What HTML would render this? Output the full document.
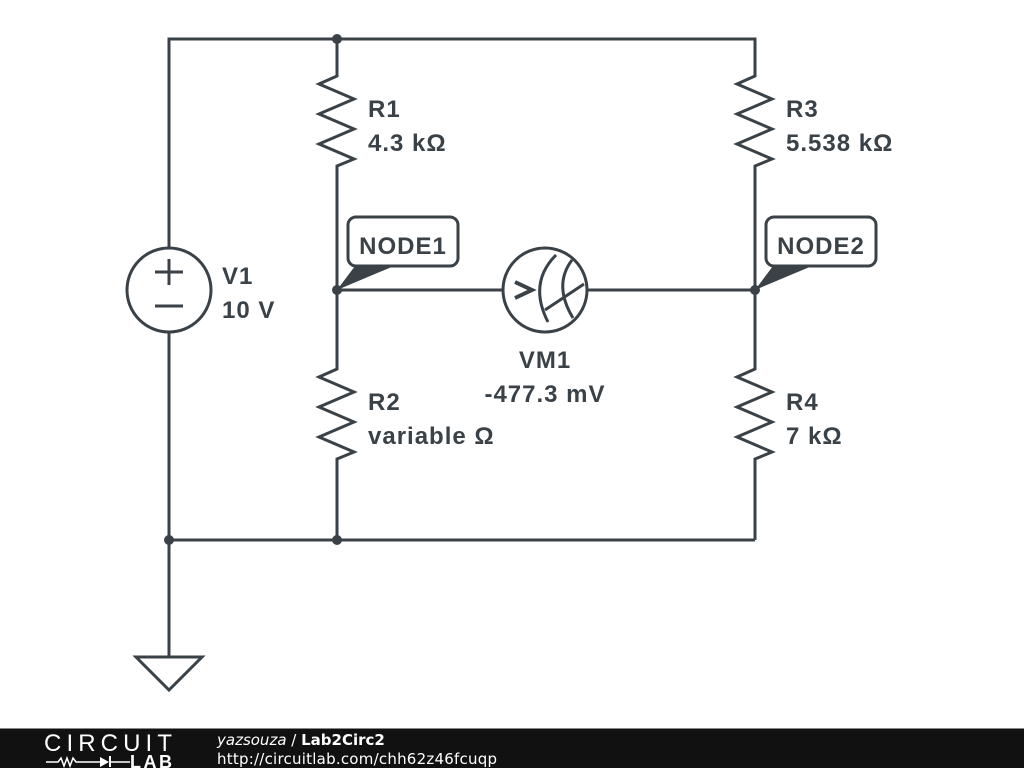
<!DOCTYPE html>
<html><head><style>
body{margin:0;width:1024px;height:768px;overflow:hidden;background:#fff}
text{font-family:"Liberation Sans",sans-serif;font-weight:bold;fill:#3a4248}
</style></head><body>
<svg width="1024" height="768" xmlns="http://www.w3.org/2000/svg">
<defs>
<g id="res"><polyline points="0,-50 0,-44 -18,-36 17,-21 -18,-6 17,9 -18,24 17,39 0,46 0,50" fill="none" stroke="#3a4248" stroke-width="3" stroke-linejoin="miter"/></g>
</defs>
<g fill="none" stroke="#3a4248" stroke-width="3">
<polyline points="169,248 169,39 755,39 755,70"/>
<line x1="337" y1="39" x2="337" y2="70"/>
<line x1="337" y1="170" x2="337" y2="363"/>
<line x1="755" y1="170" x2="755" y2="363"/>
<line x1="337" y1="462" x2="337" y2="540"/>
<line x1="755" y1="462" x2="755" y2="540"/>
<line x1="169" y1="540" x2="755" y2="540"/>
<line x1="169" y1="332" x2="169" y2="657"/>
<polygon points="136,657 202,657 169,690"/>
<circle cx="169" cy="290" r="42"/>
<line x1="155" y1="272" x2="183" y2="272"/><line x1="169" y1="259" x2="169" y2="285"/>
<line x1="155" y1="306" x2="183" y2="306"/>
<line x1="337" y1="290" x2="503" y2="290"/>
<line x1="587" y1="290" x2="755" y2="290"/>
<circle cx="545" cy="290" r="42"/>
<polyline points="515,282 532,290 515,298" stroke-width="4"/>
<path d="M556,255 Q528,283 548,322"/>
<path d="M572,260 Q553,285 573,318"/>
<line x1="545" y1="310" x2="584" y2="284"/>
<rect x="348" y="217" width="110" height="49" rx="8"/>
<rect x="766" y="217" width="110" height="49" rx="8"/>
</g>
<g transform="translate(337,120)"><use href="#res"/></g>
<g transform="translate(755,120)"><use href="#res"/></g>
<g transform="translate(337,413)"><use href="#res"/></g>
<g transform="translate(755,413)"><use href="#res"/></g>
<g fill="#3a4248">
<polygon points="337,290 355,266 394,266"/>
<polygon points="755,290 773,266 812,266"/>
<circle cx="337" cy="39" r="5"/><circle cx="337" cy="290" r="5"/><circle cx="755" cy="290" r="5"/>
<circle cx="169" cy="540" r="5"/><circle cx="337" cy="540" r="5"/>
</g>
<g font-size="24" letter-spacing="1">
<text x="368" y="117">R1</text><text x="368" y="151">4.3 kΩ</text>
<text x="786" y="117">R3</text><text x="786" y="151">5.538 kΩ</text>
<text x="368" y="410">R2</text><text x="368" y="444">variable Ω</text>
<text x="786" y="410">R4</text><text x="786" y="444">7 kΩ</text>
<text x="222" y="284">V1</text><text x="222" y="318">10 V</text>
<text x="545" y="368" text-anchor="middle">VM1</text><text x="545" y="402" text-anchor="middle">-477.3 mV</text>
<text x="403" y="254" text-anchor="middle">NODE1</text>
<text x="821" y="254" text-anchor="middle">NODE2</text>
</g>
<rect x="0" y="728" width="1024" height="40" fill="#111"/>
<line x1="0" y1="728.5" x2="1024" y2="728.5" stroke="#888"/>
<text x="44" y="751" font-size="24" textLength="128" style="fill:#fff;font-weight:normal;font-family:'Liberation Sans',sans-serif">CIRCUIT</text>
<polyline points="46,762 58,762 61,758 64,766 67,758 70,766 73,758 76,762 100,762" fill="none" stroke="#fff" stroke-width="1.5"/>
<polygon points="100,757 100,767 109,762" fill="#fff"/><line x1="110" y1="756" x2="110" y2="767" stroke="#fff" stroke-width="2"/>
<line x1="110" y1="762" x2="130" y2="762" stroke="#fff" stroke-width="1.5"/>
<text x="130" y="768" font-size="18" textLength="42" style="fill:#fff;font-family:'Liberation Sans',sans-serif">LAB</text>
<text x="217" y="745" font-size="15" style="fill:#fff;font-weight:normal;font-style:italic;font-family:'DejaVu Sans',sans-serif">yazsouza <tspan font-style="normal">/</tspan> <tspan font-weight="bold" font-style="normal">Lab2Circ2</tspan></text>
<text x="217" y="764" font-size="15" textLength="280" style="fill:#fff;font-weight:normal;font-family:'DejaVu Sans',sans-serif">http://circuitlab.com/chh62z46fcuqp</text>
</svg>
</body></html>
